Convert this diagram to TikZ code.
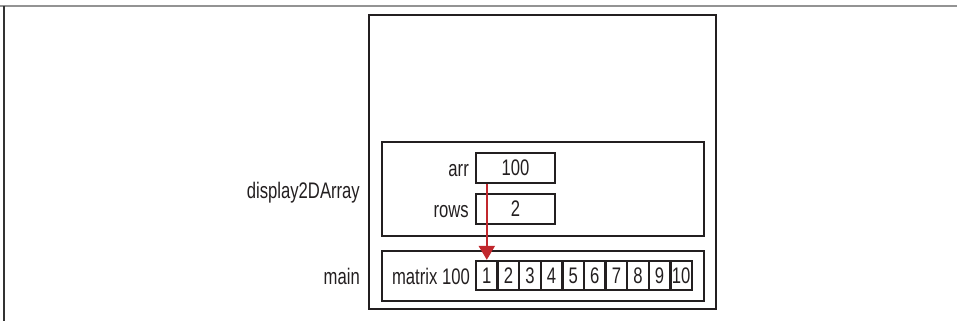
\documentclass[tikz,border=0pt]{standalone}
\usepackage{fontspec}
\setmainfont{Liberation Sans}[FakeStretch=0.74]
\usetikzlibrary{arrows.meta}
\definecolor{ptrred}{HTML}{C1272D}
\definecolor{inkc}{HTML}{231F20}
\begin{document}
\begin{tikzpicture}[x=1pt,y=-1pt,
  txt/.style={font=\fontsize{22.5}{22.5}\selectfont, text=inkc},
  box/.style={draw=inkc, line width=2.8pt, inner sep=0pt, txt},
  cellbox/.style={draw=inkc, line width=2.3pt, inner sep=0pt, minimum width=21.6pt, minimum height=29pt, txt},
  lbl/.style={inner sep=0pt, anchor=base east, txt},
  ptr/.style={draw=ptrred, line width=2.2pt, -{Triangle[width=16pt,length=14pt]}},
  edgegray/.style={draw=gray!85, line width=1.8pt},
  edgedark/.style={draw=black!80, line width=1.4pt}
]
\useasboundingbox (0,0) rectangle (957,321);
% page edges
\draw[edgegray] (0,6) -- (957,6);
\draw[edgedark] (4,6) -- (4,321);
% frames
\node[box, minimum width=347pt, minimum height=294pt] (outer) at (542.5,162) {};
\node[box, minimum width=322pt, minimum height=94pt] (disp) at (543,189) {};
\node[box, minimum width=322pt, minimum height=50pt] (mainf) at (543,276) {};
% variables
\node[box, minimum width=79pt, minimum height=30pt] (arrv) at (515.5,168) {100};
\node[box, minimum width=79pt, minimum height=30pt] (rowsv) at (515.5,209) {2};
\node[lbl] (arrl) at (469,176) {arr};
\node[lbl] (rowsl) at (469,217) {rows};
% array cells
\foreach \i in {1,...,10}
  \node[cellbox] (c\i) at ({476+21.6*(\i-0.5)},275.5) {\i};
\node[lbl] (matl) at (470,284) {matrix 100};
% frame labels
\node[lbl] (displ) at (360,198) {display2DArray};
\node[lbl] (mainl) at (360,284) {main};
% pointer
\draw[ptr] (arrv.south -| c1.north) -- (c1.north);
\end{tikzpicture}
\end{document}
